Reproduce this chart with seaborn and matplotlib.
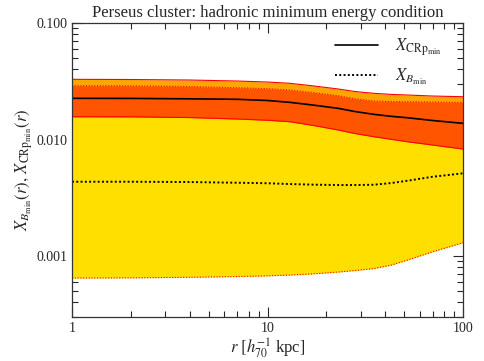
import matplotlib
matplotlib.use("Agg")
import matplotlib.pyplot as plt
import pandas as pd
import seaborn as sns

# radius in h70^-1 kpc
r = [1, 2, 4, 7, 10, 13, 17, 23, 28, 35, 43, 52, 70, 100]

# X_CRp,min band (solid red edges) and central value
crp_hi = [0.03286, 0.03273, 0.03241, 0.03177, 0.03115, 0.03037, 0.02890, 0.02714,
          0.02582, 0.02492, 0.02439, 0.02410, 0.02362, 0.02330]
crp_mid = [0.02257, 0.02253, 0.02235, 0.02214, 0.02162, 0.02085, 0.01978, 0.01852,
           0.01739, 0.01645, 0.01581, 0.01538, 0.01456, 0.01377]
crp_lo = [0.01569, 0.01566, 0.01544, 0.01500, 0.01464, 0.01422, 0.01324, 0.01207,
          0.01126, 0.01057, 0.01004, 0.00957, 0.00897, 0.00829]

# X_B,min band (dotted red edges) and central value
b_hi = [0.02896, 0.02890, 0.02850, 0.02783, 0.02730, 0.02660, 0.02531, 0.02377,
        0.02235, 0.02140, 0.02120, 0.02111, 0.02098, 0.02085]
b_mid = [0.004343, 0.004343, 0.004317, 0.004258, 0.004216, 0.004150, 0.004101, 0.004069,
         0.004069, 0.004093, 0.004233, 0.004430, 0.004794, 0.005128]
b_lo = [0.000647, 0.000650, 0.000657, 0.000667, 0.000676, 0.000687, 0.000703, 0.000729,
        0.000751, 0.000781, 0.000837, 0.000924, 0.001089, 0.001301]

df = pd.DataFrame({'r': r, 'crp': crp_mid, 'b': b_mid})

sns.set_style('ticks')
plt.rcParams['font.family'] = ['Liberation Serif', 'DejaVu Serif']
plt.rcParams['mathtext.fontset'] = 'stix'

fig = plt.figure(figsize=(4.84, 3.61), dpi=100)
ax = fig.add_axes([0.1488, 0.1219, 0.8078, 0.8144])

yellow = '#ffdf00'
orange = '#ffa500'
dark = '#ff5500'

ax.fill_between(r, b_lo, b_hi, color=yellow, lw=0)
ax.fill_between(r, crp_lo, crp_hi, color=orange, lw=0)
ax.fill_between(r, crp_lo, b_hi, color=dark, lw=0)
ax.plot(r, crp_hi, color='red', lw=0.8)
ax.plot(r, crp_lo, color='red', lw=0.8)
ax.plot(r, b_hi, color='red', lw=0.8, ls=(0, (1, 1.5)))
ax.plot(r, b_lo, color='red', lw=0.8, ls=(0, (1, 1.5)))

sns.lineplot(data=df, x='r', y='crp', ax=ax, color='black', lw=1.2,
             label=r'$X_{\rm CRp_{min}}$')
sns.lineplot(data=df, x='r', y='b', ax=ax, color='black', lw=1.4, ls=(0, (1, 1.2)),
             label=r'$X_{B_{\rm min}}$')

ax.set_xscale('log')
ax.set_yscale('log')
ax.set_xlim(1, 100)
ax.set_ylim(3e-4, 0.1)
ax.set_xticks([1, 10, 100])
ax.set_xticklabels(['1', '10', '100'])
ax.set_yticks([0.001, 0.01, 0.1])
ax.set_yticklabels(['0.001', '0.010', '0.100'])
ax.tick_params(which='both', direction='in', top=True, right=True, labelsize=10)
ax.tick_params(which='major', length=7, width=0.8)
ax.tick_params(which='minor', length=4, width=0.8)
for s in ax.spines.values():
    s.set_linewidth(0.9)
    s.set_color('#333333')

ax.set_title('Perseus cluster: hadronic minimum energy condition', fontsize=12, pad=4)
ax.set_xlabel(r'$r\ [h_{70}^{-1}$ kpc$]$', fontsize=12, labelpad=1)
ax.set_ylabel(r'$X_{B_{\rm min}}(r),\, X_{\rm CRp_{min}}(r)$', fontsize=12, labelpad=1)

leg = ax.legend(loc='upper right', frameon=False, fontsize=12, handlelength=2.6,
                handletextpad=1.0, bbox_to_anchor=(0.945, 0.955), borderpad=0,
                borderaxespad=0, labelspacing=0.55)

fig.savefig('out.png', dpi=100)
